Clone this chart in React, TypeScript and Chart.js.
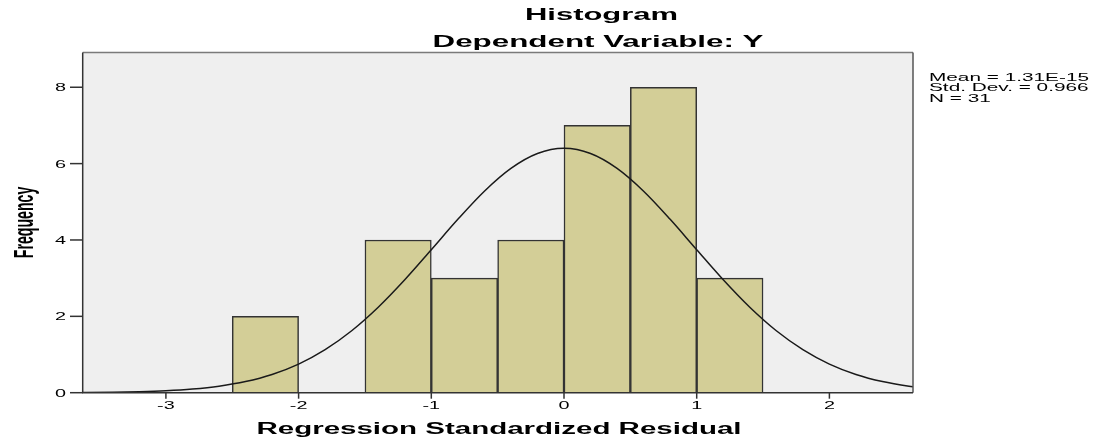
import React, { useEffect, useRef } from 'react';
import { Chart, registerables } from 'chart.js';

Chart.register(...registerables);

// ---- data ----
const binCenters = [-2.25, -1.25, -0.75, -0.25, 0.25, 0.75, 1.25];
const frequencies = [2, 4, 3, 4, 7, 8, 3];

const curveX = [-3.7, -3.6, -3.4, -3.2, -3.0, -2.8, -2.6, -2.4, -2.2, -2.0, -1.8, -1.6, -1.4, -1.2, -1.0, -0.8, -0.6, -0.4, -0.2, 0, 0.2, 0.4, 0.6, 0.8, 1.0, 1.2, 1.4, 1.6, 1.8, 2.0, 2.2, 2.4, 2.6, 2.7];
const curveY = [0.004, 0.006, 0.013, 0.026, 0.051, 0.096, 0.171, 0.292, 0.478, 0.75, 1.128, 1.623, 2.239, 2.958, 3.745, 4.541, 5.277, 5.874, 6.264, 6.4, 6.264, 5.874, 5.277, 4.541, 3.745, 2.958, 2.239, 1.623, 1.128, 0.75, 0.478, 0.292, 0.171, 0.129];

const xTicks = [-3, -2, -1, 0, 1, 2];
const yTicks = [0, 2, 4, 6, 8];
const xMin = -3.627;
const xMax = 2.63;
const yMax = 8.91;

const statsLines = ['Mean = 1.31E-15', 'Std. Dev. = 0.966', 'N = 31'];
const chartTitle = 'Histogram';
const chartSubtitle = 'Dependent Variable: Y';
const xTitle = 'Regression Standardized Residual';
const yTitle = 'Frequency';

const FONT = 'Arial, "Liberation Sans", sans-serif';

function drawStretched(
  ctx: CanvasRenderingContext2D,
  text: string,
  x: number,
  y: number,
  font: string,
  sx: number,
  align: 'left' | 'center' | 'right',
  baseline: CanvasTextBaseline = 'alphabetic'
) {
  ctx.save();
  ctx.font = font;
  ctx.textAlign = 'left';
  ctx.textBaseline = baseline;
  const w = ctx.measureText(text).width * sx;
  const left = align === 'left' ? x : align === 'center' ? x - w / 2 : x - w;
  ctx.translate(left, y);
  ctx.scale(sx, 1);
  ctx.fillStyle = '#000';
  ctx.fillText(text, 0, 0);
  ctx.restore();
}

function drawToWidth(
  ctx: CanvasRenderingContext2D,
  text: string,
  cx: number,
  y: number,
  font: string,
  width: number
) {
  ctx.save();
  ctx.font = font;
  const m = ctx.measureText(text).width;
  ctx.restore();
  drawStretched(ctx, text, cx, y, font, width / m, 'center');
}

const decorPlugin = {
  id: 'spssDecor',
  beforeDatasetsDraw(chart: any) {
    const { ctx, chartArea: a } = chart;
    ctx.save();
    ctx.fillStyle = '#efefef';
    ctx.fillRect(a.left, a.top, a.right - a.left, a.bottom - a.top);
    ctx.restore();
  },
  afterDraw(chart: any) {
    const { ctx, chartArea: a } = chart;
    const xs = chart.scales.x;
    const ys = chart.scales.y;

    // frame
    ctx.save();
    ctx.lineWidth = 1.5;
    ctx.strokeStyle = '#7a7a7a';
    ctx.beginPath();
    ctx.moveTo(a.left, a.top);
    ctx.lineTo(a.right, a.top);
    ctx.stroke();
    ctx.strokeStyle = '#555';
    ctx.beginPath();
    ctx.moveTo(a.right, a.top);
    ctx.lineTo(a.right, a.bottom);
    ctx.stroke();
    ctx.strokeStyle = '#333';
    ctx.beginPath();
    ctx.moveTo(a.left, a.top);
    ctx.lineTo(a.left, a.bottom);
    ctx.lineTo(a.right, a.bottom);
    ctx.stroke();

    // y ticks
    ctx.strokeStyle = '#333';
    ctx.lineWidth = 1.5;
    yTicks.forEach((v) => {
      const py = ys.getPixelForValue(v);
      ctx.beginPath();
      ctx.moveTo(70, py);
      ctx.lineTo(a.left, py);
      ctx.stroke();
    });
    // x ticks
    xTicks.forEach((v) => {
      const px = xs.getPixelForValue(v);
      ctx.beginPath();
      ctx.moveTo(px, a.bottom);
      ctx.lineTo(px, a.bottom + 6);
      ctx.stroke();
    });
    ctx.restore();

    // tick labels
    const tickFont = `11px ${FONT}`;
    yTicks.forEach((v) => {
      drawStretched(ctx, String(v), 66, ys.getPixelForValue(v) + 4, tickFont, 1.8, 'right');
    });
    xTicks.forEach((v) => {
      drawStretched(ctx, String(v), xs.getPixelForValue(v), a.bottom + 16, tickFont, 1.8, 'center');
    });

    // titles
    drawToWidth(ctx, chartTitle, 601.5, 20, `bold 17px ${FONT}`, 153);
    drawToWidth(ctx, chartSubtitle, 598, 47, `bold 17px ${FONT}`, 331);
    drawToWidth(ctx, xTitle, 499, 434, `bold 16px ${FONT}`, 485);

    // y title rotated
    ctx.save();
    const yFont = `bold 14px ${FONT}`;
    ctx.font = yFont;
    const m = ctx.measureText(yTitle).width;
    ctx.translate(33, 222.5);
    ctx.scale(2.0, 71.5 / m);
    ctx.rotate(-Math.PI / 2);
    ctx.textAlign = 'center';
    ctx.textBaseline = 'alphabetic';
    ctx.fillStyle = '#000';
    ctx.fillText(yTitle, 0, 0);
    ctx.restore();

    // stats text
    const statFont = `11px ${FONT}`;
    ctx.save();
    ctx.font = statFont;
    const mw = ctx.measureText(statsLines[0]).width;
    ctx.restore();
    const ssx = 160 / mw;
    statsLines.forEach((t, i) => {
      drawStretched(ctx, t, 929, 80.5 + i * 10.6, statFont, ssx, 'left');
    });
  },
};

export default function App() {
  const canvasRef = useRef<HTMLCanvasElement | null>(null);

  useEffect(() => {
    const canvas = canvasRef.current;
    if (!canvas) return;
    const chart = new Chart(canvas, {
      type: 'bar',
      data: {
        datasets: [
          {
            type: 'line',
            label: 'Normal',
            data: curveX.map((x, i) => ({ x, y: curveY[i] })),
            borderColor: '#1a1a1a',
            borderWidth: 1.5,
            pointRadius: 0,
            cubicInterpolationMode: 'monotone',
            fill: false,
            order: 0,
          } as any,
          {
            type: 'bar',
            label: 'Frequency',
            data: binCenters.map((x, i) => ({ x, y: frequencies[i] })),
            backgroundColor: '#d3ce97',
            borderColor: '#333',
            borderWidth: 1.5,
            barPercentage: 1,
            categoryPercentage: 1,
            order: 1,
          } as any,
        ],
      },
      options: {
        responsive: false,
        animation: false,
        layout: { padding: { left: 82.7, right: 189, top: 52.5, bottom: 49.3 } },
        plugins: { legend: { display: false }, tooltip: { enabled: false }, title: { display: false } },
        scales: {
          x: {
            type: 'linear',
            min: xMin,
            max: xMax,
            offset: false,
            display: false,
            grid: { offset: false },
            ticks: { stepSize: 1, includeBounds: false },
          },
          y: {
            type: 'linear',
            min: 0,
            max: yMax,
            display: false,
            ticks: { stepSize: 2 },
          },
        },
      },
      plugins: [decorPlugin],
    });
    return () => chart.destroy();
  }, []);

  return (
    <div style={{ position: 'fixed', left: 0, top: 0, width: 1102, height: 442, background: '#fff' }}>
      <canvas ref={canvasRef} width={1102} height={442} style={{ display: 'block' }} />
    </div>
  );
}
